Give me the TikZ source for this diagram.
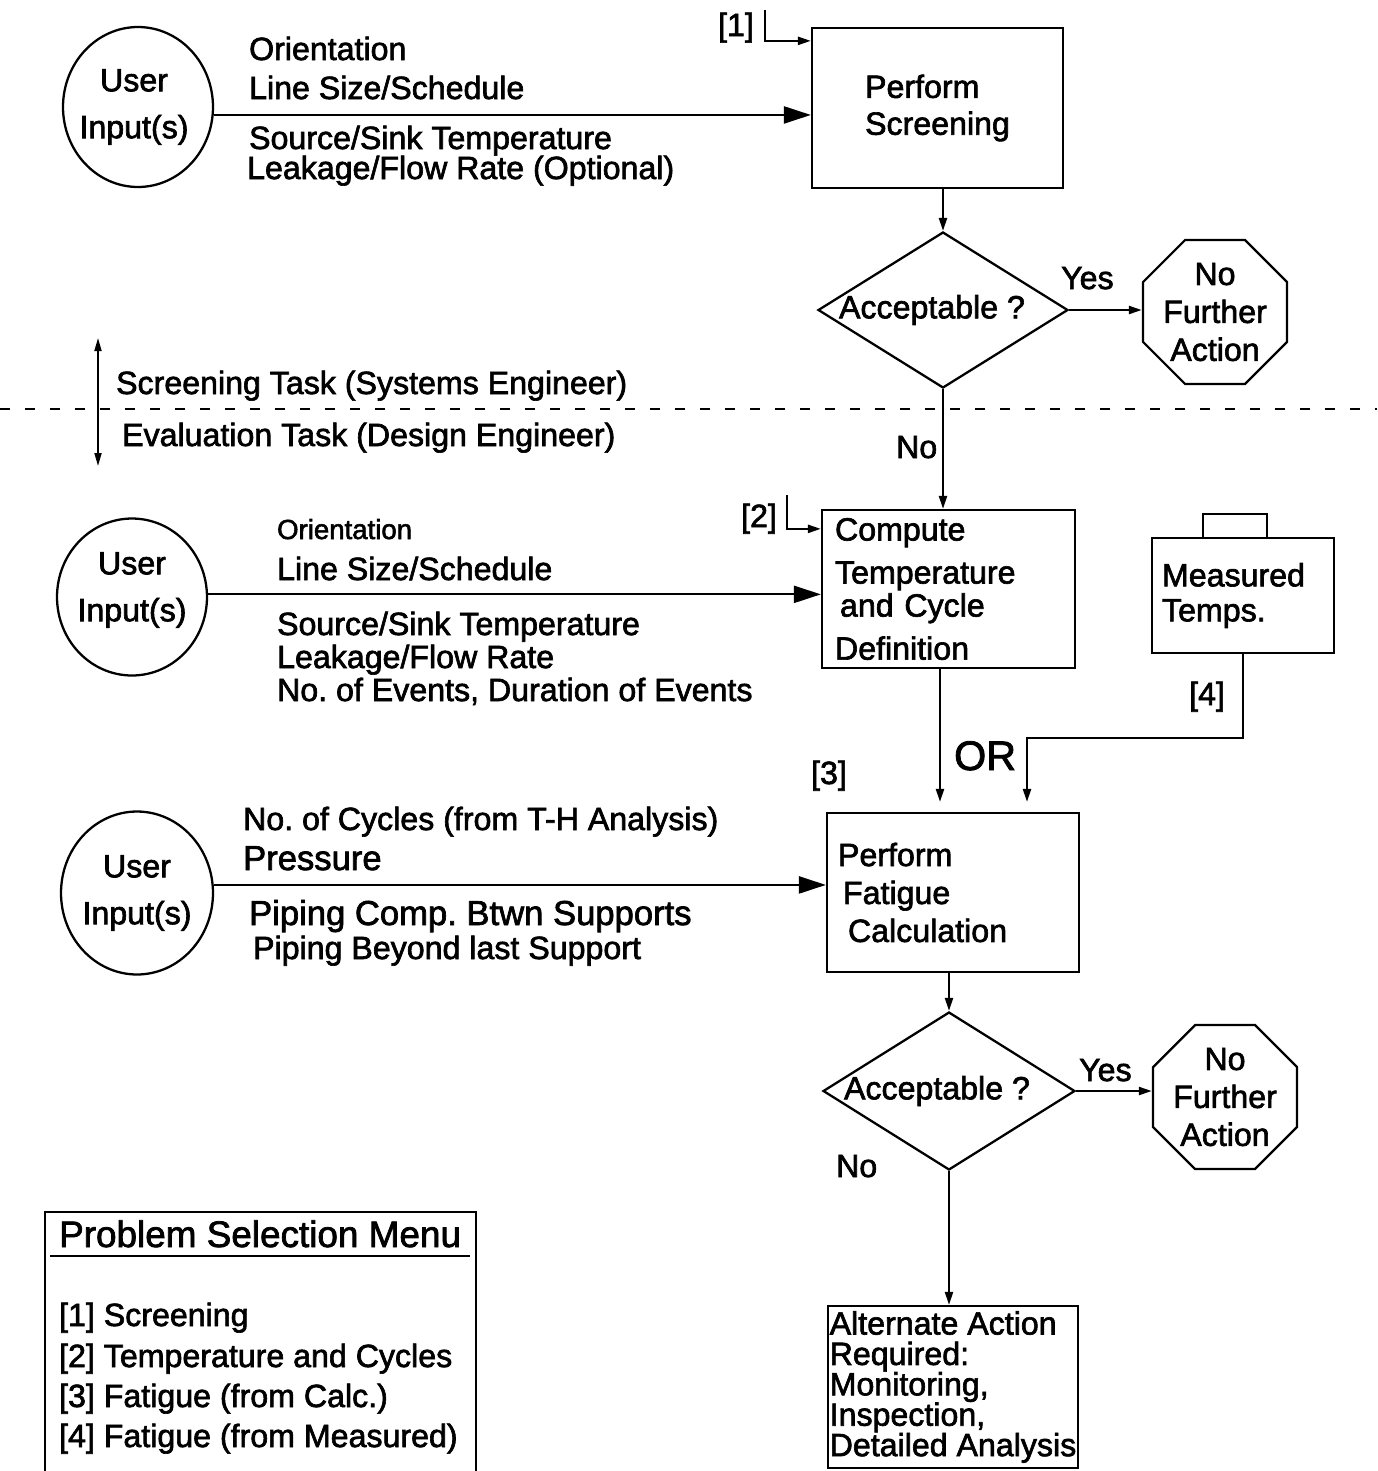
\documentclass[tikz,border=0pt]{standalone}
\usepackage{fontspec}
\setmainfont{Liberation Sans}[BoldFont={Liberation Sans},BoldFeatures={FakeBold=2}]
\usetikzlibrary{shapes.geometric}
\usetikzlibrary{arrows.meta}
\usetikzlibrary{positioning}
\newcommand{\fsz}[2]{\fontsize{#1pt}{#2pt}\selectfont\bfseries\frenchspacing}
\tikzset{%
  bigarrow/.style = {-{Triangle[length=0.54cm,width=0.34cm]}},
  smallarrow/.style = {-{Triangle[length=0.26cm,width=0.16cm]}},
  userin/.style = {ellipse,draw,inner sep=0pt,minimum width=3cm,
        minimum height=3.2cm},
  box/.style = {rectangle,draw,align=left},
  decide/.style = {diamond,draw,inner sep=0pt,minimum width=5cm,
        minimum height=3.12cm},
  stopsign/.style = {regular polygon,regular polygon sides=8,draw,
        inner sep=0pt,minimum size=3.12cm},
  txt/.style = {anchor=base west,inner sep=0pt}
}

\begin{document}
\begin{tikzpicture}[x=0.02cm,y=-0.02cm,line width=1.3pt,font=\fsz{18.3}{21}]
   \useasboundingbox (0,0) rectangle (1377,1471);

   % screening task
   \node[userin] (u1) at (138,107) {};
   \node[align=center,font=\fsz{18.3}{26.7}] (u1t) at ([xshift=-0.08cm]u1) {User\\Input(s)};
   \node[box,minimum width=5.02cm,minimum height=3.2cm] (scr) at (937.5,108) {Perform\\Screening};
   \node[decide] (dec1) at (943,310) {};
   \node (dec1t) [xshift=-0.22cm] at (dec1) {Acceptable ?};
   \node[stopsign] (oct1) at (1215,312) {};
   \node[align=center,font=\fsz{18.3}{21.6}] (oct1t) at (oct1) {No\\Further\\Action};

   \node[txt] (a1) at (248,60) {Orientation};
   \node[txt] (a2) at (248,99) {Line Size/Schedule};
   \node[txt] (a3) at (248,149) {Source/Sink Temperature};
   \node[txt] (a4) at (246,179) {Leakage/Flow Rate (Optional)};

   \node[txt] (k1) at (717,36) {[1]};
   \coordinate (k1s) at (765,10);
   \node[txt] (yes1) at (1060,289) {Yes};

   \draw[bigarrow] (u1.-6) -- (u1.-6 -| scr.west);
   \draw[smallarrow] (k1s) |- ([yshift=-0.28cm]scr.north west);
   \draw[smallarrow] (dec1.north |- scr.south) -- (dec1.north);
   \draw[smallarrow] (dec1.east) -- (dec1.east -| oct1.west);

   % task border
   \coordinate (dl) at (0,409);
   \coordinate (dr) at (1377,409);
   \draw[line width=1pt,dash pattern=on 0.2cm off 0.3cm] (dl) -- (dr);
   \coordinate (ta) at (98,338);
   \coordinate (tb) at (98,466);
   \draw[line width=1pt,{Triangle[length=0.26cm,width=0.14cm]}-{Triangle[length=0.26cm,width=0.14cm]}] (ta) -- (tb);
   \node[txt] (task1) at (115,394) {Screening Task (Systems Engineer)};
   \node[txt] (task2) at (121,446) {Evaluation Task (Design Engineer)};
   \node[txt] (no1) at (895,458) {No};

   % temperature and cycles
   \node[userin,minimum height=3.14cm] (u2) at (132,597) {};
   \node[align=center,font=\fsz{18.3}{26.7}] (u2t) at ([yshift=0.14cm]u2) {User\\Input(s)};
   \node[box,minimum width=5.06cm,minimum height=3.16cm,inner xsep=0.26cm,
         text width=4.54cm,font=\fsz{18.3}{18.8}] (comp) at (948.5,589)
         {Compute\\[5.7pt]Temperature\\\hspace*{0.1cm}and Cycle\\[5.7pt]Definition};
   \node[box,minimum width=3.64cm,minimum height=2.3cm,inner xsep=0.2cm,
         text width=3.24cm,font=\fsz{18.3}{19.9}] (meas) at (1243,595.5) {Measured\\Temps.};
   \draw ([xshift=1.04cm]meas.north west) -- ++(0,-23) -- ++(64,0) -- ++(0,23);

   \node[txt,font=\fsz{15.7}{18}] (b1) at (276,539) {Orientation};
   \node[txt] (b2) at (276,580) {Line Size/Schedule};
   \node[txt] (b3) at (276,635) {Source/Sink Temperature};
   \node[txt] (b4) at (276,668) {Leakage/Flow Rate};
   \node[txt] (b5) at (276,701) {No. of Events, Duration of Events};

   \node[txt] (k2) at (740,527) {[2]};
   \coordinate (k2s) at (787,495);

   \draw[smallarrow] (dec1.south) -- (dec1.south |- comp.north);
   \draw[bigarrow] (u2.2) -- (u2.2 -| comp.west);
   \draw[smallarrow] (k2s) |- ([yshift=-0.4cm]comp.north west);

   % fatigue
   \node[userin,minimum width=3.04cm,minimum height=3.26cm] (u3) at (137,893) {};
   \node[align=center,font=\fsz{18.3}{26.7}] (u3t) at (u3) {User\\Input(s)};
   \node[box,minimum width=5.04cm,minimum height=3.18cm,inner xsep=0.22cm,
         text width=4.6cm,font=\fsz{18.3}{21.6}] (fat) at (953,892.5)
         {Perform\\\hspace*{0.1cm}Fatigue\\\hspace*{0.2cm}Calculation};

   \node[txt] (c1) at (242,830) {No. of Cycles (from T-H Analysis)};
   \node[txt,font=\fsz{19.7}{22}] (c2) at (242,870) {Pressure};
   \node[txt,font=\fsz{19.7}{22}] (c3) at (248,925) {Piping Comp. Btwn Supports};
   \node[txt] (c4) at (252,959) {Piping Beyond last Support};

   \node[txt] (k3) at (810,784) {[3]};
   \node[txt] (k4) at (1188,705) {[4]};
   \node[txt,font=\fsz{23.5}{28}] (or) at (953,770) {OR};
   \coordinate (orjoin) at (1027,738);

   \draw[bigarrow] (u3.6) -- (u3.6 -| fat.west);
   \draw[smallarrow,shorten >=0.2cm] ([xshift=-0.17cm]comp.south) -- ([xshift=-0.17cm]comp.south |- fat.north);
   \draw[smallarrow,shorten >=0.2cm] (meas.south) |- (orjoin) -- (orjoin |- fat.north);

   \node[decide,minimum width=5.04cm,minimum height=3.16cm] (dec2) at (949,1091) {};
   \node (dec2t) [xshift=-0.24cm] at (dec2) {Acceptable ?};
   \node[stopsign] (oct2) at (1225,1097) {};
   \node[align=center,font=\fsz{18.3}{21.6}] (oct2t) at (oct2) {No\\Further\\Action};
   \node[txt] (yes2) at (1078,1081) {Yes};
   \node[txt] (no2) at (835,1177) {No};

   \node[box,minimum width=5cm,minimum height=3.24cm,inner sep=0.02cm,
         font=\fsz{18.3}{17.3}] (alt) at (953,1387)
         {Alternate Action\\Required:\\Monitoring,\\Inspection,\\Detailed Analysis};

   \draw[smallarrow] (dec2.north |- fat.south) -- (dec2.north);
   \draw[smallarrow] (dec2.east) -- (dec2.east -| oct2.west);
   \draw[smallarrow] (dec2.south) -- (dec2.south |- alt.north);

   % menu
   \coordinate (mbl) at (45,1471);
   \coordinate (mtr) at (476,1212);
   \draw (mbl) |- (mtr) -- (mtr |- mbl);
   \node[txt,font=\fsz{21}{25}] (mtitle) at (58,1247) {Problem Selection Menu};
   \draw ([xshift=-0.16cm,yshift=-0.18cm]mtitle.base west) -- ([xshift=0.16cm,yshift=-0.18cm]mtitle.base east);
   \node[txt] (m1) at (58,1326) {[1] Screening};
   \node[txt] (m2) at (58,1367) {[2] Temperature and Cycles};
   \node[txt] (m3) at (58,1407) {[3] Fatigue (from Calc.)};
   \node[txt] (m4) at (58,1447) {[4] Fatigue (from Measured)};
\end{tikzpicture}
\end{document}
